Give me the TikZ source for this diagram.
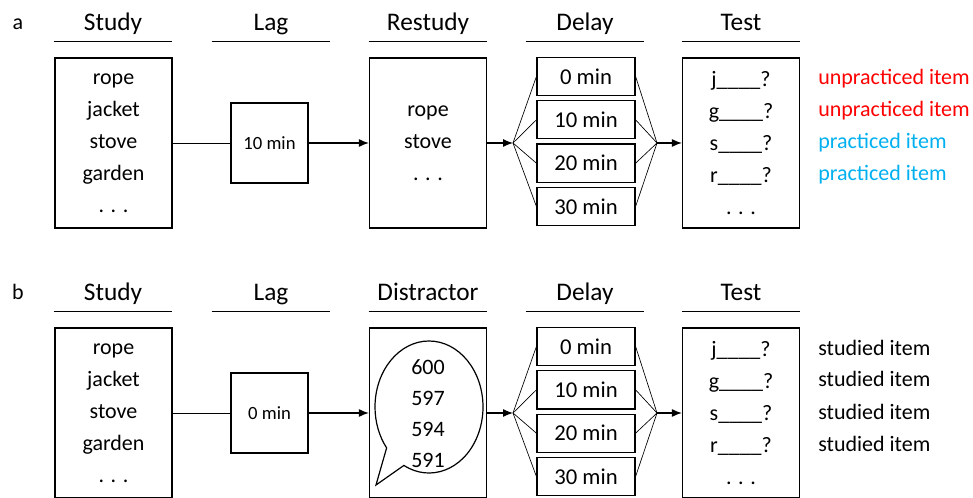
\documentclass[tikz,border=0pt]{standalone}
\usepackage{fontspec}
\setmainfont{Carlito}
\usetikzlibrary{positioning,arrows.meta,shapes.callouts}
\definecolor{unpract}{RGB}{255,0,0}
\definecolor{pract}{RGB}{0,176,240}

\begin{document}
\begin{tikzpicture}[
  x=0.75pt, y=-0.75pt,
  head/.style={font=\fontsize{19}{23}\selectfont, minimum width=88.5pt, inner sep=0pt, text depth=7.5pt, anchor=base,
    append after command={(\tikzlastnode.south west) edge[line width=1.1pt] (\tikzlastnode.south east)}},
  panel/.style={font=\fontsize{16.5}{20}\selectfont, anchor=base},
  listbox/.style={draw, line width=0.9pt, minimum width=87.75pt, minimum height=127.5pt, align=center, font=\fontsize{16.5}{24}\selectfont},
  lagbox/.style={draw, line width=0.9pt, minimum width=57.75pt, minimum height=60pt, font=\fontsize{14}{17}\selectfont},
  delaybox/.style={draw, line width=0.9pt, minimum width=73.5pt, minimum height=28.6pt, font=\fontsize{17}{20}\selectfont},
  tag/.style={anchor=base west, inner sep=0pt, font=\fontsize{16.5}{20}\selectfont},
  arr/.style={-{Latex[length=7.5pt,width=6pt]}, line width=0.9pt},
  link/.style={line width=0.6pt},
  fan/.style={line width=0.5pt}
]
\useasboundingbox (0,0) rectangle (973,498);

% panel a
\node[panel] (labA) at (18,30) {a};
\node[head] (hStudyA) at (113,31) {Study};
\node[head] (hLagA) at (271,31) {Lag};
\node[head] (hRestudyA) at (428,31) {Restudy};
\node[head] (hDelayA) at (585,31) {Delay};
\node[head] (hTestA) at (741,31) {Test};

\node[listbox] (studyA) at (113.5,143) {rope\\jacket\\stove\\garden\\. . .};
\node[lagbox] (lagA) at (269.5,143) {10 min};
\node[listbox] (restudyA) at (428,143) {rope\\stove\\. . .};
\node[delaybox] (delayA1) at (586,76.5) {0 min};
\node[delaybox, below=3pt of delayA1] (delayA2) {10 min};
\node[delaybox, below=3pt of delayA2] (delayA3) {20 min};
\node[delaybox, below=3pt of delayA3] (delayA4) {30 min};
\node[listbox] (testA) at (741,143) {j\_\_\_\_?\\g\_\_\_\_?\\s\_\_\_\_?\\r\_\_\_\_?\\. . .};
\coordinate (splitA) at (513,143);
\coordinate (joinA) at (657,143);

\node[tag, text=unpract] (tagA1) at (818,85) {unpracticed item};
\node[tag, text=unpract] (tagA2) at (818,117) {unpracticed item};
\node[tag, text=pract] (tagA3) at (818,149) {practiced item};
\node[tag, text=pract] (tagA4) at (818,181) {practiced item};

\draw[link] (studyA) -- (lagA);
\draw[arr] (lagA) -- (restudyA);
\draw[arr] (restudyA) -- (splitA);
\foreach \i in {1,...,4} {
  \draw[fan] (splitA) -- (delayA\i.west);
  \draw[fan] (delayA\i.east) -- (joinA);
}
\draw[arr] (joinA) -- (testA);

% panel b
\node[panel] (labB) at (18,300) {b};
\node[head] (hStudyB) at (113,301) {Study};
\node[head] (hLagB) at (271,301) {Lag};
\node[head] (hDistrB) at (428,301) {Distractor};
\node[head] (hDelayB) at (585,301) {Delay};
\node[head] (hTestB) at (741,301) {Test};

\node[listbox] (studyB) at (113.5,413) {rope\\jacket\\stove\\garden\\. . .};
\node[lagbox] (lagB) at (269.5,413) {0 min};
\node[listbox] (distrB) at (428,413) {};
\node[draw, line width=0.9pt, ellipse callout, minimum width=81pt, minimum height=99pt,
  callout absolute pointer={(376,485)}, callout pointer arc=24] (bubble) at (429,407) {};
\node[align=center, font=\fontsize{16.5}{23.25}\selectfont] (numbers) at (428,414) {600\\597\\594\\591};
\node[delaybox] (delayB1) at (586,346.5) {0 min};
\node[delaybox, below=3pt of delayB1] (delayB2) {10 min};
\node[delaybox, below=3pt of delayB2] (delayB3) {20 min};
\node[delaybox, below=3pt of delayB3] (delayB4) {30 min};
\node[listbox] (testB) at (741,413) {j\_\_\_\_?\\g\_\_\_\_?\\s\_\_\_\_?\\r\_\_\_\_?\\. . .};
\coordinate (splitB) at (513,413);
\coordinate (joinB) at (657,413);

\node[tag] (tagB1) at (818,355) {studied item};
\node[tag] (tagB2) at (818,387) {studied item};
\node[tag] (tagB3) at (818,419) {studied item};
\node[tag] (tagB4) at (818,451) {studied item};

\draw[link] (studyB) -- (lagB);
\draw[arr] (lagB) -- (distrB);
\draw[arr] (distrB) -- (splitB);
\foreach \i in {1,...,4} {
  \draw[fan] (splitB) -- (delayB\i.west);
  \draw[fan] (delayB\i.east) -- (joinB);
}
\draw[arr] (joinB) -- (testB);
\end{tikzpicture}
\end{document}
